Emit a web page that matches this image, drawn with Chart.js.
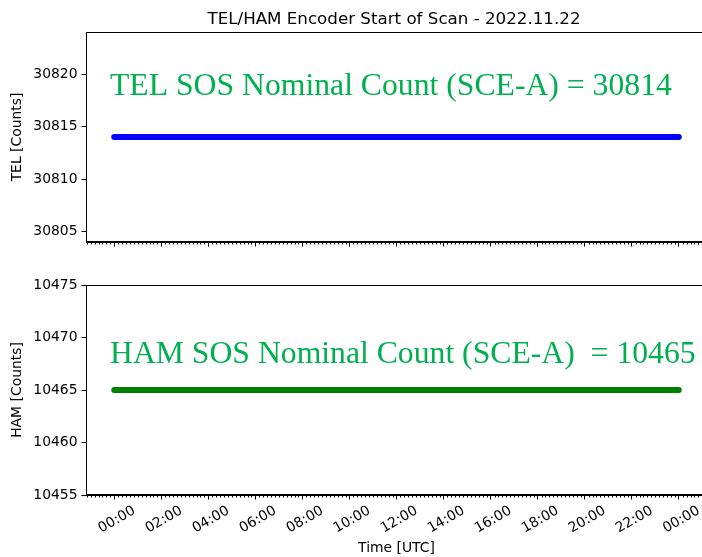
<!DOCTYPE html>
<html>
<head>
<meta charset="utf-8">
<script src="https://cdn.jsdelivr.net/npm/chart.js@4/dist/chart.umd.min.js"></script>
<style>
  html, body { margin: 0; padding: 0; background: #fff; overflow: hidden; }
  #wrap { position: relative; width: 702px; height: 557px; overflow: hidden; }
  canvas { position: absolute; left: 0; }
</style>
</head>
<body>
<div id="wrap">
  <canvas id="chart-tel" width="708" height="262" style="top:0"></canvas>
  <canvas id="chart-ham" width="708" height="295" style="top:262px"></canvas>
</div>
<script>
// hours since 00:00 UTC on 2022.11.22
const hours = [0, 24];
const telCounts = [30814, 30814];
const hamCounts = [10465, 10465];

const hourTicks = [0, 2, 4, 6, 8, 10, 12, 14, 16, 18, 20, 22, 24];
const telTicks = [30805, 30810, 30815, 30820];
const hamTicks = [10455, 10460, 10465, 10470, 10475];
const telLimits = [30804, 30824];
const hamLimits = [10455, 10475];
const hourLimits = [-1.2, 25.2];

const titleText = "TEL/HAM Encoder Start of Scan - 2022.11.22";
const telNote = "TEL SOS Nominal Count (SCE-A) = 30814";
const hamNote = "HAM SOS Nominal Count (SCE-A)  = 10465";

const FONT = "DejaVu Sans";

// frame, minor ticks, the pasted green note and (top chart) the title
const decor = {
  id: "decor",
  afterDraw(chart, args, opts) {
    const { ctx, chartArea: a } = chart;
    const xs = chart.scales.x;
    ctx.save();
    ctx.strokeStyle = "#000";
    ctx.lineWidth = 1;
    ctx.strokeRect(Math.round(a.left) + 0.5, Math.round(a.top) + 0.5,
      Math.round(a.right - a.left) - 1, Math.round(a.bottom - a.top) - 1);

    // minor ticks every 10 minutes
    ctx.beginPath();
    for (let m = -70; m <= 1510; m += 10) {
      if (m % 120 === 0) continue;
      const px = Math.round(xs.getPixelForValue(m / 60)) + 0.5;
      if (px < a.left || px > a.right) continue;
      ctx.moveTo(px, a.bottom);
      ctx.lineTo(px, a.bottom + 2.5);
    }
    ctx.stroke();

    ctx.fillStyle = "#00b050";
    ctx.font = '31.7px "Liberation Serif"';
    ctx.textAlign = "left";
    ctx.textBaseline = "alphabetic";
    ctx.fillText(opts.note, a.left + 24, a.top + opts.noteDy);

    if (opts.title) {
      ctx.fillStyle = "#000";
      ctx.font = "16.7px " + FONT;
      ctx.textAlign = "center";
      ctx.fillText(opts.title, 394, 24);
    }
    ctx.restore();
  }
};

function makeChart(id, cfg) {
  return new Chart(document.getElementById(id), {
    type: "line",
    data: {
      datasets: [{
        data: hours.map((h, i) => ({ x: h, y: cfg.counts[i] })),
        borderColor: cfg.color,
        borderWidth: 6,
        borderCapStyle: "round",
        pointRadius: 0,
        tension: 0,
        fill: false,
      }],
    },
    options: {
      responsive: false,
      animation: false,
      events: [],
      layout: { padding: { top: cfg.padTop, right: 1, left: 0, bottom: 0 } },
      plugins: {
        legend: { display: false },
        tooltip: { enabled: false },
        decor: { note: cfg.note, noteDy: cfg.noteDy, title: cfg.title },
      },
      scales: {
        x: {
          type: "linear",
          min: hourLimits[0],
          max: hourLimits[1],
          afterBuildTicks: s => { s.ticks = hourTicks.map(v => ({ value: v })); },
          afterFit: s => { s.height = cfg.xHeight; },
          grid: { drawOnChartArea: false, tickLength: 4.5, tickColor: "#000" },
          border: { color: "#000" },
          ticks: {
            display: cfg.showX,
            autoSkip: false,
            minRotation: 30,
            maxRotation: 30,
            padding: 3,
            labelOffset: 20,
            color: "#000",
            font: { family: FONT, size: 13.9 },
            callback: v => String(v % 24).padStart(2, "0") + ":00",
          },
          title: {
            display: cfg.showX,
            text: "Time [UTC]",
            color: "#000",
            font: { family: FONT, size: 13.9 },
            padding: { top: 0, bottom: 0 },
          },
        },
        y: {
          min: cfg.limits[0],
          max: cfg.limits[1],
          afterBuildTicks: s => { s.ticks = cfg.yTicks.map(v => ({ value: v })); },
          afterFit: s => { s.width = 86; },
          grid: { drawOnChartArea: false, tickLength: 4.5, tickColor: "#000" },
          border: { color: "#000" },
          ticks: {
            padding: 4,
            color: "#000",
            font: { family: FONT, size: 13.9 },
            callback: v => String(v),
          },
          title: {
            display: true,
            text: cfg.yLabel,
            color: "#000",
            font: { family: FONT, size: 13.9 },
            padding: { top: 9, bottom: 0 },
          },
        },
      },
    },
    plugins: [decor],
  });
}

makeChart("chart-tel", {
  counts: telCounts, color: "#0000ff", limits: telLimits, yTicks: telTicks,
  yLabel: "TEL [Counts]", note: telNote, noteDy: 63, title: titleText,
  padTop: 32, xHeight: 20, showX: false,
});

makeChart("chart-ham", {
  counts: hamCounts, color: "#008000", limits: hamLimits, yTicks: hamTicks,
  yLabel: "HAM [Counts]", note: hamNote, noteDy: 78, title: null,
  padTop: 23, xHeight: 62, showX: true,
});
</script>
</body>
</html>
